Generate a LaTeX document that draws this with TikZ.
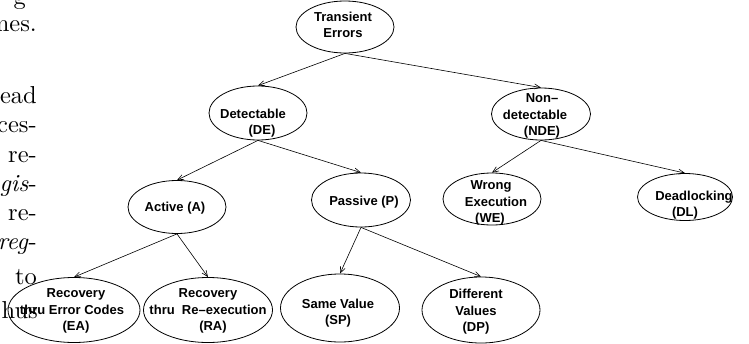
\documentclass[tikz,border=0pt]{standalone}
\usepackage{fontspec}
\usepackage{graphicx}
\newfontfamily\helv{Liberation Sans}
\usetikzlibrary{shapes.geometric,arrows.meta}
\newcommand{\pagetxt}[1]{\scalebox{2.45}{\fontsize{10}{12}\selectfont #1}}
\tikzset{
  oval/.style={draw, ellipse, inner sep=0pt, line width=0.8pt},
  lbl/.style={font=\helv\bfseries\fontsize{13}{16.5}\selectfont, align=center, inner sep=0pt},
  col/.style={anchor=base east, inner sep=0pt},
  tree/.style={-{Straight Barb[length=6pt,width=5pt]}, line width=0.6pt},
}
\begin{document}
\begin{tikzpicture}[x=1pt, y=-1pt]
  \useasboundingbox (0,0) rectangle (749,343);
  % column text of the page behind the figure
  \foreach \t/\x/\y [count=\k] in {g/26/4, nes./37/31, ead/37/103, ces-/37/132,
      re-/37/162, \textit{gis}-/37/191, re-/37/220, \textit{reg}-/37/249,
      to/37/284, hus/38/318}
    \node[col] (line\k) at (\x,\y) {\pagetxt{\t}};
  % ellipses
  \foreach \nm/\x/\y/\w/\h in {te/345/27/98/52, de/258/113/98/54, nde/541/114/99/52,
      we/492/199/98/52, dl/685/197/95/47, a/177/207/98/53, p/361/200/99/54,
      ea/74/310/132/65, ra/208/310/129/65, sp/340/308/119/68, dp/481/310/118/66}
    \node[oval, minimum width={\w pt}, minimum height={\h pt}] (\nm) at (\x,\y) {};
  % labels
  \node[lbl] (te-t) at (343,25) {Transient\\Errors};
  \node[lbl] (de-t) at (253,123) {Detectable\\\hspace*{18pt}(DE)};
  \node[lbl] (nde-t) at (535,116) {\hspace*{14pt}Non–\\detectable\\\hspace*{14pt}(NDE)};
  \node[lbl] (we-t) at (496,203) {Wrong\hspace*{10pt}\\Execution\\(WE)\hspace*{12pt}};
  \node[lbl] (dl-t) at (694,205) {Deadlocking\\(DL)\hspace*{18pt}};
  \node[lbl] (a-t) at (175,208) {Active (A)};
  \node[lbl] (p-t) at (364,202) {Passive (P)};
  \node[lbl] (ea-t) at (72,311) {\hspace*{8pt}Recovery\\thru Error Codes\\\hspace*{8pt}(EA)};
  \node[lbl] (ra-t) at (208,311) {Recovery\\thru\ \ Re–execution\\\hspace*{10pt}(RA)};
  \node[lbl] (sp-t) at (338,313) {Same Value\\(SP)};
  \node[lbl] (dp-t) at (476,312) {Different\\Values\\(DP)};
  % edges
  \foreach \u/\v in {te/de, te/nde, de/a, de/p, nde/we, nde/dl, a/ea, a/ra, p/sp, p/dp}
    \draw[tree] (\u.south) -- (\v.north);
\end{tikzpicture}
\end{document}
